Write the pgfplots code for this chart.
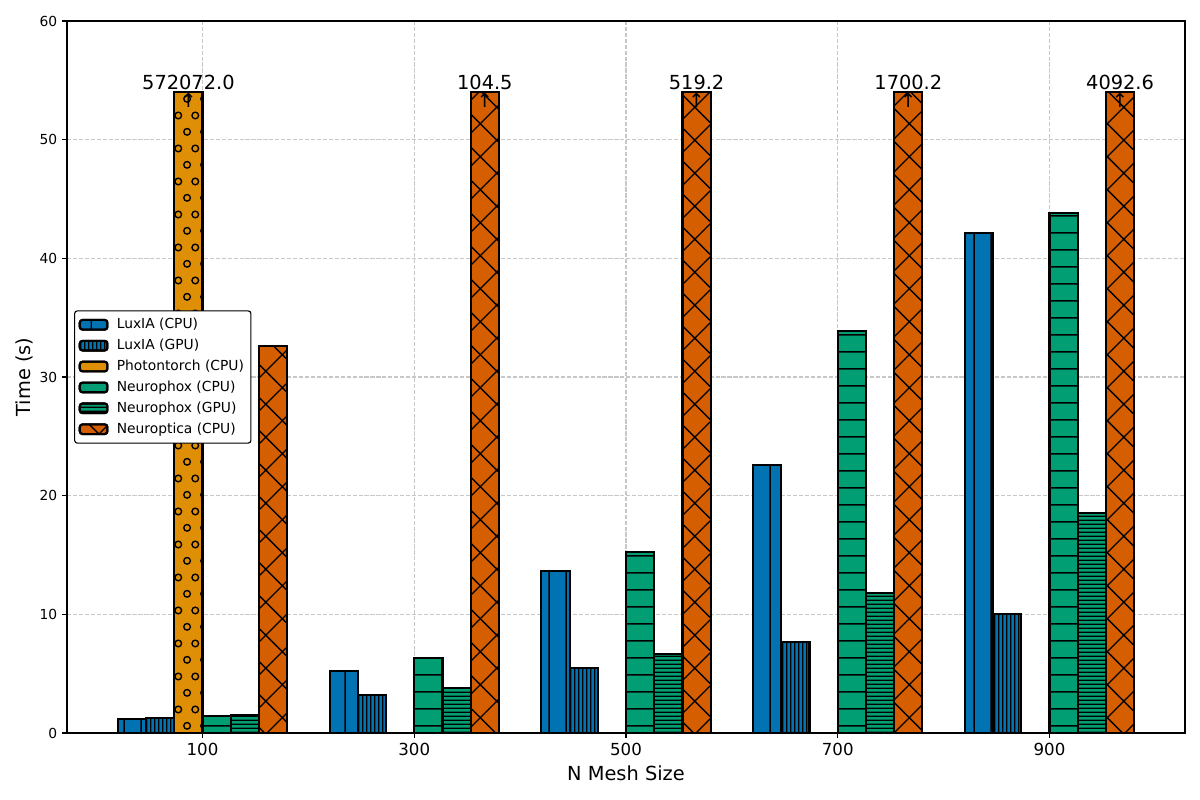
\documentclass[border=0pt]{standalone}
\usepackage{fontspec}
\setmainfont{DejaVu Sans}
\usepackage{pgfplots}
\pgfplotsset{compat=1.18}
\usetikzlibrary{patterns.meta}

\definecolor{cblue}{HTML}{0173B2}
\definecolor{corange}{HTML}{DE8F05}
\definecolor{cgreen}{HTML}{029E73}
\definecolor{cred}{HTML}{D55E00}
\definecolor{gridc}{HTML}{C8C8C8}

\pgfdeclarepattern{
  name=vsparse, type=uncolored,
  bottom left={\pgfpoint{0pt}{0pt}},
  top right={\pgfpoint{12.045pt}{4pt}},
  tile size={\pgfpoint{12.045pt}{4pt}},
  code={\pgfsetlinewidth{1pt}
    \pgfpathmoveto{\pgfpoint{6pt}{-1pt}}\pgfpathlineto{\pgfpoint{6pt}{5pt}}
    \pgfusepath{stroke}}
}
\pgfdeclarepattern{
  name=vdense, type=uncolored,
  bottom left={\pgfpoint{0pt}{0pt}},
  top right={\pgfpoint{3.011pt}{4pt}},
  tile size={\pgfpoint{3.011pt}{4pt}},
  code={\pgfsetlinewidth{1pt}
    \pgfpathmoveto{\pgfpoint{1.5pt}{-1pt}}\pgfpathlineto{\pgfpoint{1.5pt}{5pt}}
    \pgfusepath{stroke}}
}
\pgfdeclarepattern{
  name=hsparse, type=uncolored,
  bottom left={\pgfpoint{0pt}{0pt}},
  top right={\pgfpoint{4pt}{12.045pt}},
  tile size={\pgfpoint{4pt}{12.045pt}},
  code={\pgfsetlinewidth{1pt}
    \pgfpathmoveto{\pgfpoint{-1pt}{6pt}}\pgfpathlineto{\pgfpoint{5pt}{6pt}}
    \pgfusepath{stroke}}
}
\pgfdeclarepattern{
  name=hdense, type=uncolored,
  bottom left={\pgfpoint{0pt}{0pt}},
  top right={\pgfpoint{4pt}{3.011pt}},
  tile size={\pgfpoint{4pt}{3.011pt}},
  code={\pgfsetlinewidth{1pt}
    \pgfpathmoveto{\pgfpoint{-1pt}{1.5pt}}\pgfpathlineto{\pgfpoint{5pt}{1.5pt}}
    \pgfusepath{stroke}}
}
\pgfdeclarepattern{
  name=xcross, type=uncolored,
  bottom left={\pgfpoint{0pt}{0pt}},
  top right={\pgfpoint{24.09pt}{24.09pt}},
  tile size={\pgfpoint{24.09pt}{24.09pt}},
  code={\pgfsetlinewidth{1pt}
    \pgfpathmoveto{\pgfpoint{-26.5pt}{-2.41pt}}\pgfpathlineto{\pgfpoint{2.41pt}{26.5pt}}
    \pgfpathmoveto{\pgfpoint{-2.41pt}{-2.41pt}}\pgfpathlineto{\pgfpoint{26.5pt}{26.5pt}}
    \pgfpathmoveto{\pgfpoint{21.68pt}{-2.41pt}}\pgfpathlineto{\pgfpoint{50.59pt}{26.5pt}}
    \pgfpathmoveto{\pgfpoint{-26.5pt}{26.5pt}}\pgfpathlineto{\pgfpoint{2.41pt}{-2.41pt}}
    \pgfpathmoveto{\pgfpoint{-2.41pt}{26.5pt}}\pgfpathlineto{\pgfpoint{26.5pt}{-2.41pt}}
    \pgfpathmoveto{\pgfpoint{21.68pt}{26.5pt}}\pgfpathlineto{\pgfpoint{50.59pt}{-2.41pt}}
    \pgfusepath{stroke}}
}
\pgfdeclarepattern{
  name=ocircles, type=uncolored,
  bottom left={\pgfpoint{0pt}{0pt}},
  top right={\pgfpoint{12.045pt}{24.09pt}},
  tile size={\pgfpoint{12.045pt}{24.09pt}},
  code={\pgfsetlinewidth{1pt}
    \pgfpathcircle{\pgfpoint{3.011pt}{6.022pt}}{2.45pt}
    \pgfpathcircle{\pgfpoint{9.034pt}{18.07pt}}{2.45pt}
    \pgfusepath{stroke}}
}

\pgfplotsset{
  mybar/.style={ybar, bar width=26.667, draw=black, line width=1.5pt},
}

\begin{document}
\begin{tikzpicture}
\useasboundingbox (0,0) rectangle (12in,8in);
\begin{axis}[
  at={(0.67in,0.67in)}, anchor=south west,
  scale only axis, width=11.18in, height=7.12in,
  xmin=-28, xmax=1028, ymin=0, ymax=60,
  xtick={100,300,500,700,900}, ytick={0,10,...,60},
  xtick pos=bottom, ytick pos=left,
  tick align=outside, major tick length=3.5pt,
  tick style={black, line width=0.8pt},
  axis line style={line width=0.8pt},
  /pgf/number format/assume math mode=true,
  xticklabel style={font=\fontsize{12}{14}\selectfont},
  yticklabel style={font=\fontsize{10}{12}\selectfont},
  xlabel={N Mesh Size}, ylabel={Time (s)},
  label style={font=\fontsize{14}{16}\selectfont},
  xlabel style={yshift=-1pt},
  ylabel style={yshift=-2pt},
  grid=major,
  major grid style={gridc, line width=0.8pt, dash pattern=on 3pt off 1.3pt},
  legend cell align=left,
  legend style={at={(axis description cs:0.0063,0.5)}, anchor=west,
    font=\fontsize{10}{12}\selectfont, draw=black, line width=0.8pt,
    rounded corners=2pt, row sep=2pt, inner xsep=3pt, inner ysep=3.5pt},
  legend image code/.code={\draw[#1] (0pt,-3.5pt) rectangle (20pt,3.5pt);
    \path[draw=none, fill=none, pattern=none, preaction={}] (24pt,0pt);},
]
\addplot[mybar, bar shift=-66.667, preaction={fill=cblue}, pattern=vsparse]
  coordinates {(100,1.15) (300,5.25) (500,13.65) (700,22.58) (900,42.13)};
\addlegendentry{LuxIA (CPU)}
\addplot[mybar, bar shift=-40, preaction={fill=cblue}, pattern=vdense]
  coordinates {(100,1.24) (300,3.2) (500,5.48) (700,7.67) (900,10.03)};
\addlegendentry{LuxIA (GPU)}
\addplot[mybar, bar shift=-13.333, preaction={fill=corange}, pattern=ocircles]
  coordinates {(100,54) (300,0) (500,0) (700,0) (900,0)};
\addlegendentry{Photontorch (CPU)}
\addplot[mybar, bar shift=13.333, preaction={fill=cgreen}, pattern=hsparse]
  coordinates {(100,1.46) (300,6.35) (500,15.25) (700,33.88) (900,43.8)};
\addlegendentry{Neurophox (CPU)}
\addplot[mybar, bar shift=40, preaction={fill=cgreen}, pattern=hdense]
  coordinates {(100,1.49) (300,3.82) (500,6.66) (700,11.8) (900,18.54)};
\addlegendentry{Neurophox (GPU)}
\addplot[mybar, bar shift=66.667, preaction={fill=cred}, pattern=xcross]
  coordinates {(100,32.6) (300,54) (500,54) (700,54) (900,54)};
\addlegendentry{Neuroptica (CPU)}

\begin{scope}[every node/.style={font=\fontsize{14}{16}\selectfont, inner sep=0pt}]
\node[anchor=base, yshift=2.2pt] at (axis cs:86.667,54) {572072.0};
\node[anchor=base, yshift=2.2pt] at (axis cs:366.667,54) {104.5};
\node[anchor=base, yshift=2.2pt] at (axis cs:566.667,54) {519.2};
\node[anchor=base, yshift=2.2pt] at (axis cs:766.667,54) {1700.2};
\node[anchor=base, yshift=2.2pt] at (axis cs:966.667,54) {4092.6};
\node[anchor=north, yshift=-0.5pt] at (axis cs:86.667,54) {↑};
\node[anchor=north, yshift=-0.5pt] at (axis cs:366.667,54) {↑};
\node[anchor=north, yshift=-0.5pt] at (axis cs:566.667,54) {↑};
\node[anchor=north, yshift=-0.5pt] at (axis cs:766.667,54) {↑};
\node[anchor=north, yshift=-0.5pt] at (axis cs:966.667,54) {↑};
\end{scope}
\end{axis}
\end{tikzpicture}
\end{document}
